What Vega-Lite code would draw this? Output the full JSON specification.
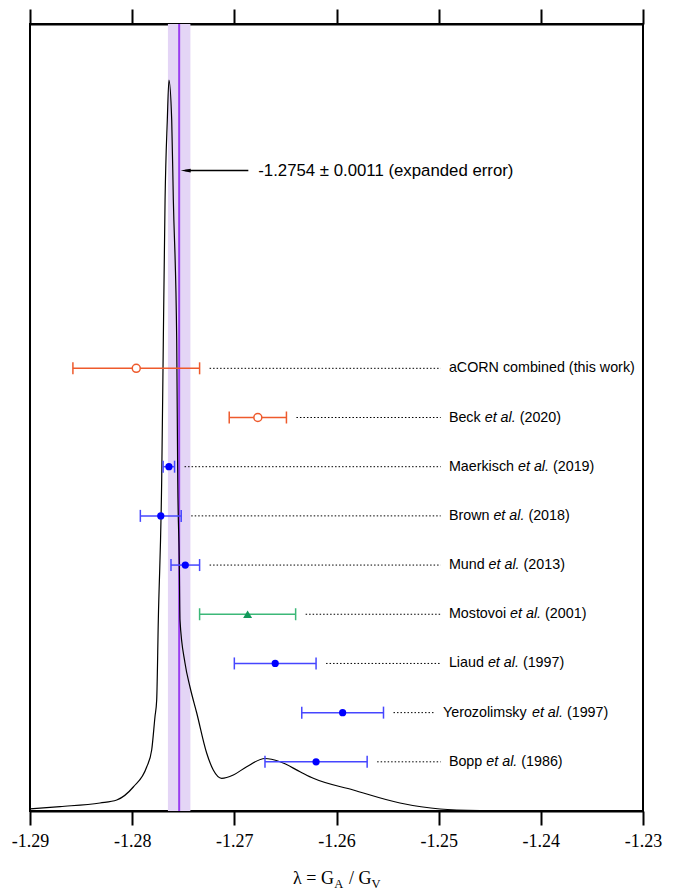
{
  "$schema": "https://vega.github.io/schema/vega-lite/v6.json",
  "width": 613,
  "height": 787,
  "autosize": {"type": "none"},
  "padding": {"left": 30, "top": 24, "right": 37, "bottom": 80},
  "background": "white",
  "config": {"view": {"stroke": "black", "strokeWidth": 2}, "font": "Liberation Sans"},
  "datasets": {
    "curve": [
      {"lambda": -1.2900, "density": 0.045},
      {"lambda": -1.28706, "density": 0.09},
      {"lambda": -1.28315, "density": 0.163},
      {"lambda": -1.28151, "density": 0.224},
      {"lambda": -1.27989, "density": 0.488},
      {"lambda": -1.27858, "density": 0.894},
      {"lambda": -1.27809, "density": 1.240},
      {"lambda": -1.27777, "density": 1.911},
      {"lambda": -1.27760, "density": 2.257},
      {"lambda": -1.27744, "density": 3.883},
      {"lambda": -1.27711, "density": 6.729},
      {"lambda": -1.27695, "density": 9.575},
      {"lambda": -1.27678, "density": 12.42},
      {"lambda": -1.27656, "density": 14.05},
      {"lambda": -1.27640, "density": 14.86},
      {"lambda": -1.27613, "density": 14.05},
      {"lambda": -1.27597, "density": 12.42},
      {"lambda": -1.27564, "density": 9.575},
      {"lambda": -1.27554, "density": 6.729},
      {"lambda": -1.27539, "density": 5.10},
      {"lambda": -1.27532, "density": 3.883},
      {"lambda": -1.27483, "density": 3.009},
      {"lambda": -1.27434, "density": 2.521},
      {"lambda": -1.27368, "density": 1.992},
      {"lambda": -1.27271, "density": 1.179},
      {"lambda": -1.27206, "density": 0.833},
      {"lambda": -1.27124, "density": 0.665},
      {"lambda": -1.27010, "density": 0.732},
      {"lambda": -1.26879, "density": 0.901},
      {"lambda": -1.26700, "density": 1.067},
      {"lambda": -1.26553, "density": 1.002},
      {"lambda": -1.26357, "density": 0.799},
      {"lambda": -1.26227, "density": 0.665},
      {"lambda": -1.25836, "density": 0.427},
      {"lambda": -1.25379, "density": 0.163},
      {"lambda": -1.24987, "density": 0.041},
      {"lambda": -1.24596, "density": 0.010}
    ],
    "studies": [
      {"study": "aCORN", "label": "aCORN combined (this work)", "year": "", "group": "a (aCORN)", "value": -1.2796, "lo": -1.2858, "hi": -1.2734, "row": 9},
      {"study": "Beck", "label": "Beck", "year": "(2020)", "group": "a (aCORN)", "value": -1.2677, "lo": -1.2705, "hi": -1.2649, "row": 8},
      {"study": "Maerkisch", "label": "Maerkisch", "year": "(2019)", "group": "A", "value": -1.2764, "lo": -1.27697, "hi": -1.27585, "row": 7},
      {"study": "Brown", "label": "Brown", "year": "(2018)", "group": "A", "value": -1.2772, "lo": -1.2792, "hi": -1.2752, "row": 6},
      {"study": "Mund", "label": "Mund", "year": "(2013)", "group": "A", "value": -1.2748, "lo": -1.2762, "hi": -1.2734, "row": 5},
      {"study": "Mostovoi", "label": "Mostovoi", "year": "(2001)", "group": "A and B", "value": -1.2687, "lo": -1.2734, "hi": -1.2640, "row": 4},
      {"study": "Liaud", "label": "Liaud", "year": "(1997)", "group": "A", "value": -1.2660, "lo": -1.2700, "hi": -1.2620, "row": 3},
      {"study": "Yerozolimsky", "label": "Yerozolimsky", "year": "(1997)", "group": "A", "value": -1.2594, "lo": -1.2634, "hi": -1.2554, "row": 2},
      {"study": "Bopp", "label": "Bopp", "year": "(1986)", "group": "A", "value": -1.2620, "lo": -1.2670, "hi": -1.2570, "row": 1}
    ]
  },
  "resolve": {"axis": {"x": "independent"}},
  "layer": [
    {
      "data": {"values": [{}]},
      "mark": {"type": "rect", "color": "#e4d5f6"},
      "encoding": {
        "x": {"datum": -1.2765, "type": "quantitative", "axis": null},
        "x2": {"datum": -1.2743}
      }
    },
    {
      "data": {"values": [{}]},
      "mark": {"type": "rule", "color": "#9a3cf0", "strokeWidth": 2},
      "encoding": {
        "x": {"datum": -1.2754, "type": "quantitative",
          "axis": {"orient": "top", "values": [-1.29, -1.28, -1.27, -1.26, -1.25, -1.24, -1.23], "labels": false, "tickSize": 15, "tickWidth": 2, "tickColor": "black", "domainColor": "black", "domainWidth": 2, "grid": false, "title": null}}
      }
    },
    {
      "data": {"name": "curve"},
      "mark": {"type": "line", "color": "black", "strokeWidth": 1.2, "interpolate": "monotone"},
      "encoding": {
        "x": {"field": "lambda", "type": "quantitative",
          "scale": {"domain": [-1.29, -1.23], "nice": false, "zero": false},
          "axis": {"orient": "bottom", "values": [-1.29, -1.28, -1.27, -1.26, -1.25, -1.24, -1.23], "labelExpr": "'-' + format(abs(datum.value), '.2f')", "labelFont": "Liberation Serif", "labelFontSize": 18, "labelColor": "black", "labelPadding": 7, "tickSize": 14, "tickWidth": 2, "tickColor": "black", "domainColor": "black", "domainWidth": 2, "grid": false, "title": null, "labelFlush": false, "labelOverlap": false}},
        "y": {"field": "density", "type": "quantitative", "scale": {"domain": [0, 16], "nice": false, "zero": false}, "axis": null}
      }
    },
    {
      "data": {"name": "studies"},
      "transform": [{"filter": "datum.study != 'Yerozolimsky'"}],
      "mark": {"type": "rule", "strokeDash": [1.5, 2], "strokeWidth": 1, "color": "black", "xOffset": 10},
      "encoding": {
        "x": {"field": "hi", "type": "quantitative", "axis": null},
        "x2": {"datum": -1.2498},
        "y": {"field": "row", "type": "quantitative", "axis": null}
      }
    },
    {
      "data": {"name": "studies"},
      "transform": [{"filter": "datum.study == 'Yerozolimsky'"}],
      "mark": {"type": "rule", "strokeDash": [1.5, 2], "strokeWidth": 1, "color": "black", "xOffset": 10},
      "encoding": {
        "x": {"field": "hi", "type": "quantitative", "axis": null},
        "x2": {"datum": -1.2504},
        "y": {"field": "row", "type": "quantitative", "axis": null}
      }
    },
    {
      "data": {"name": "studies"},
      "mark": {"type": "rule", "strokeWidth": 1.5},
      "encoding": {
        "x": {"field": "lo", "type": "quantitative", "axis": null},
        "x2": {"field": "hi"},
        "y": {"field": "row", "type": "quantitative", "axis": null},
        "color": {"field": "group", "type": "nominal", "scale": {"domain": ["a (aCORN)", "A", "A and B"], "range": ["#ee5a2c", "#4646ff", "#3cb878"]}, "legend": null}
      }
    },
    {
      "data": {"name": "studies"},
      "mark": {"type": "rule", "strokeWidth": 1.5, "yOffset": -6, "y2Offset": 6},
      "encoding": {
        "x": {"field": "lo", "type": "quantitative", "axis": null},
        "y": {"field": "row", "type": "quantitative", "axis": null},
        "y2": {"field": "row"},
        "color": {"field": "group", "type": "nominal", "legend": null}
      }
    },
    {
      "data": {"name": "studies"},
      "mark": {"type": "rule", "strokeWidth": 1.5, "yOffset": -6, "y2Offset": 6},
      "encoding": {
        "x": {"field": "hi", "type": "quantitative", "axis": null},
        "y": {"field": "row", "type": "quantitative", "axis": null},
        "y2": {"field": "row"},
        "color": {"field": "group", "type": "nominal", "legend": null}
      }
    },
    {
      "data": {"name": "studies"},
      "transform": [{"filter": "datum.group == 'a (aCORN)'"}],
      "mark": {"type": "point", "shape": "circle", "filled": false, "fill": "white", "fillOpacity": 1, "stroke": "#ee5a2c", "strokeWidth": 1.5, "size": 64, "opacity": 1},
      "encoding": {
        "x": {"field": "value", "type": "quantitative", "axis": null},
        "y": {"field": "row", "type": "quantitative", "axis": null}
      }
    },
    {
      "data": {"name": "studies"},
      "transform": [{"filter": "datum.group == 'A'"}],
      "mark": {"type": "point", "shape": "circle", "filled": true, "color": "#0000ff", "size": 52, "opacity": 1},
      "encoding": {
        "x": {"field": "value", "type": "quantitative", "axis": null},
        "y": {"field": "row", "type": "quantitative", "axis": null}
      }
    },
    {
      "data": {"name": "studies"},
      "transform": [{"filter": "datum.group == 'A and B'"}],
      "mark": {"type": "point", "shape": "triangle-up", "filled": true, "color": "#11995a", "size": 80, "opacity": 1},
      "encoding": {
        "x": {"field": "value", "type": "quantitative", "axis": null},
        "y": {"field": "row", "type": "quantitative", "axis": null}
      }
    },
    {
      "data": {"name": "studies"},
      "transform": [{"filter": "datum.study != 'Yerozolimsky'"}],
      "mark": {"type": "text", "align": "left", "baseline": "middle", "fontSize": 14.3, "color": "black"},
      "encoding": {
        "x": {"datum": -1.2490, "type": "quantitative", "axis": null},
        "y": {"field": "row", "type": "quantitative", "axis": null},
        "text": {"field": "label"}
      }
    },
    {
      "data": {"name": "studies"},
      "transform": [{"filter": "datum.study == 'Yerozolimsky'"}],
      "mark": {"type": "text", "align": "left", "baseline": "middle", "fontSize": 14.3, "color": "black"},
      "encoding": {
        "x": {"datum": -1.24958, "type": "quantitative", "axis": null},
        "y": {"field": "row", "type": "quantitative", "axis": null},
        "text": {"field": "label"}
      }
    },
    {
      "data": {"name": "studies"},
      "transform": [{"filter": "datum.study == 'Beck'"}],
      "encoding": {"x": {"datum": -1.2490, "type": "quantitative", "axis": null}, "y": {"field": "row", "type": "quantitative", "axis": null}},
      "layer": [
        {"mark": {"type": "text", "align": "left", "baseline": "middle", "fontSize": 14.3, "fontStyle": "italic", "color": "black", "dx": 35.8}, "encoding": {"text": {"value": "et al."}}},
        {"mark": {"type": "text", "align": "left", "baseline": "middle", "fontSize": 14.3, "color": "black", "dx": 70.8}, "encoding": {"text": {"field": "year"}}}
      ]
    },
    {
      "data": {"name": "studies"},
      "transform": [{"filter": "datum.study == 'Maerkisch'"}],
      "encoding": {"x": {"datum": -1.2490, "type": "quantitative", "axis": null}, "y": {"field": "row", "type": "quantitative", "axis": null}},
      "layer": [
        {"mark": {"type": "text", "align": "left", "baseline": "middle", "fontSize": 14.3, "fontStyle": "italic", "color": "black", "dx": 69.1}, "encoding": {"text": {"value": "et al."}}},
        {"mark": {"type": "text", "align": "left", "baseline": "middle", "fontSize": 14.3, "color": "black", "dx": 104.1}, "encoding": {"text": {"field": "year"}}}
      ]
    },
    {
      "data": {"name": "studies"},
      "transform": [{"filter": "datum.study == 'Brown'"}],
      "encoding": {"x": {"datum": -1.2490, "type": "quantitative", "axis": null}, "y": {"field": "row", "type": "quantitative", "axis": null}},
      "layer": [
        {"mark": {"type": "text", "align": "left", "baseline": "middle", "fontSize": 14.3, "fontStyle": "italic", "color": "black", "dx": 44.5}, "encoding": {"text": {"value": "et al."}}},
        {"mark": {"type": "text", "align": "left", "baseline": "middle", "fontSize": 14.3, "color": "black", "dx": 79.5}, "encoding": {"text": {"field": "year"}}}
      ]
    },
    {
      "data": {"name": "studies"},
      "transform": [{"filter": "datum.study == 'Mund'"}],
      "encoding": {"x": {"datum": -1.2490, "type": "quantitative", "axis": null}, "y": {"field": "row", "type": "quantitative", "axis": null}},
      "layer": [
        {"mark": {"type": "text", "align": "left", "baseline": "middle", "fontSize": 14.3, "fontStyle": "italic", "color": "black", "dx": 39.7}, "encoding": {"text": {"value": "et al."}}},
        {"mark": {"type": "text", "align": "left", "baseline": "middle", "fontSize": 14.3, "color": "black", "dx": 74.7}, "encoding": {"text": {"field": "year"}}}
      ]
    },
    {
      "data": {"name": "studies"},
      "transform": [{"filter": "datum.study == 'Mostovoi'"}],
      "encoding": {"x": {"datum": -1.2490, "type": "quantitative", "axis": null}, "y": {"field": "row", "type": "quantitative", "axis": null}},
      "layer": [
        {"mark": {"type": "text", "align": "left", "baseline": "middle", "fontSize": 14.3, "fontStyle": "italic", "color": "black", "dx": 61.2}, "encoding": {"text": {"value": "et al."}}},
        {"mark": {"type": "text", "align": "left", "baseline": "middle", "fontSize": 14.3, "color": "black", "dx": 96.2}, "encoding": {"text": {"field": "year"}}}
      ]
    },
    {
      "data": {"name": "studies"},
      "transform": [{"filter": "datum.study == 'Liaud'"}],
      "encoding": {"x": {"datum": -1.2490, "type": "quantitative", "axis": null}, "y": {"field": "row", "type": "quantitative", "axis": null}},
      "layer": [
        {"mark": {"type": "text", "align": "left", "baseline": "middle", "fontSize": 14.3, "fontStyle": "italic", "color": "black", "dx": 39.0}, "encoding": {"text": {"value": "et al."}}},
        {"mark": {"type": "text", "align": "left", "baseline": "middle", "fontSize": 14.3, "color": "black", "dx": 74.0}, "encoding": {"text": {"field": "year"}}}
      ]
    },
    {
      "data": {"name": "studies"},
      "transform": [{"filter": "datum.study == 'Yerozolimsky'"}],
      "encoding": {"x": {"datum": -1.24958, "type": "quantitative", "axis": null}, "y": {"field": "row", "type": "quantitative", "axis": null}},
      "layer": [
        {"mark": {"type": "text", "align": "left", "baseline": "middle", "fontSize": 14.3, "fontStyle": "italic", "color": "black", "dx": 89.0}, "encoding": {"text": {"value": "et al."}}},
        {"mark": {"type": "text", "align": "left", "baseline": "middle", "fontSize": 14.3, "color": "black", "dx": 124.0}, "encoding": {"text": {"field": "year"}}}
      ]
    },
    {
      "data": {"name": "studies"},
      "transform": [{"filter": "datum.study == 'Bopp'"}],
      "encoding": {"x": {"datum": -1.2490, "type": "quantitative", "axis": null}, "y": {"field": "row", "type": "quantitative", "axis": null}},
      "layer": [
        {"mark": {"type": "text", "align": "left", "baseline": "middle", "fontSize": 14.3, "fontStyle": "italic", "color": "black", "dx": 37.4}, "encoding": {"text": {"value": "et al."}}},
        {"mark": {"type": "text", "align": "left", "baseline": "middle", "fontSize": 14.3, "color": "black", "dx": 72.4}, "encoding": {"text": {"field": "year"}}}
      ]
    },
    {
      "data": {"values": [{}]},
      "mark": {"type": "rule", "color": "black", "strokeWidth": 1.5},
      "encoding": {
        "x": {"datum": -1.26863, "type": "quantitative", "axis": null},
        "x2": {"datum": -1.2748},
        "y": {"datum": 13.02, "type": "quantitative", "axis": null}
      }
    },
    {
      "data": {"values": [{}]},
      "mark": {"type": "point", "shape": "M -1 0 L 1 -0.36 L 1 0.36 Z", "filled": true, "color": "black", "size": 100, "opacity": 1},
      "encoding": {
        "x": {"datum": -1.27476, "type": "quantitative", "axis": null},
        "y": {"datum": 13.02, "type": "quantitative", "axis": null}
      }
    },
    {
      "data": {"values": [{}]},
      "mark": {"type": "text", "align": "left", "baseline": "middle", "fontSize": 16.8, "color": "black"},
      "encoding": {
        "x": {"datum": -1.26766, "type": "quantitative", "axis": null},
        "y": {"datum": 13.02, "type": "quantitative", "axis": null},
        "text": {"value": "-1.2754 ± 0.0011 (expanded error)"}
      }
    },
    {
      "data": {"values": [{}]},
      "encoding": {
        "x": {"datum": -1.26, "type": "quantitative", "axis": null},
        "y": {"datum": -1.484, "type": "quantitative", "axis": null}
      },
      "layer": [
        {"mark": {"type": "text", "align": "left", "baseline": "alphabetic", "font": "Liberation Serif", "fontSize": 18, "color": "black", "dx": -43.5}, "encoding": {"text": {"value": "λ = G"}}},
        {"mark": {"type": "text", "align": "left", "baseline": "alphabetic", "font": "Liberation Serif", "fontSize": 12.5, "color": "black", "dx": -2.3, "dy": 4}, "encoding": {"text": {"value": "A"}}},
        {"mark": {"type": "text", "align": "left", "baseline": "alphabetic", "font": "Liberation Serif", "fontSize": 18, "color": "black", "dx": 12.5}, "encoding": {"text": {"value": "/ G"}}},
        {"mark": {"type": "text", "align": "left", "baseline": "alphabetic", "font": "Liberation Serif", "fontSize": 12.5, "color": "black", "dx": 35, "dy": 4}, "encoding": {"text": {"value": "V"}}}
      ]
    }
  ]
}
